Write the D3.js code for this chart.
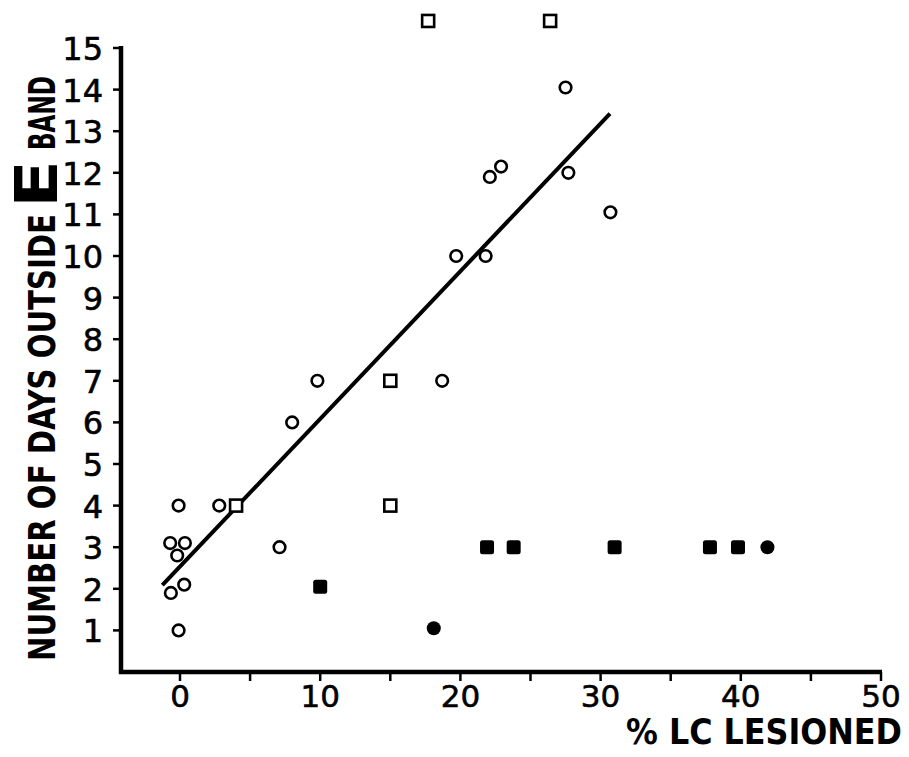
<!DOCTYPE html>
<html>
<head>
<meta charset="utf-8">
<script src="https://cdn.jsdelivr.net/npm/d3@7"></script>
<style>
  html, body { margin: 0; padding: 0; background: #fff; }
  svg { display: block; }
  text { fill: #000; }
</style>
</head>
<body>
<div id="chart"></div>
<script>
// ---- data ----
const xTicks = [0, 10, 20, 30, 40, 50];
const xMinorTicks = [5, 15, 25, 35, 45];
const yTicks = [1, 2, 3, 4, 5, 6, 7, 8, 9, 10, 11, 12, 13, 14, 15];

// open circles: [% LC lesioned, days outside E band]
const openCircles = [
  [-0.1, 4.0], [-0.7, 3.1], [0.35, 3.1], [-0.2, 2.8], [-0.65, 1.9], [0.3, 2.1],
  [-0.1, 1.0], [2.8, 4.0], [7.1, 3.0], [8.0, 6.0], [9.8, 7.0], [18.7, 7.0],
  [19.7, 10.0], [21.8, 10.0], [22.1, 11.9], [22.9, 12.15], [27.7, 12.0],
  [27.5, 14.05], [30.7, 11.05]
];
// open squares
const openSquares = [
  [4.0, 4.0], [15.0, 7.0], [15.0, 4.0], [17.7, 15.65], [26.4, 15.65]
];
// filled squares
const filledSquares = [
  [10.0, 2.05], [21.9, 3.0], [23.8, 3.0], [31.0, 3.0], [37.8, 3.0], [39.8, 3.0]
];
// filled circles
const filledCircles = [
  [18.1, 1.05], [41.9, 3.0]
];
// regression line end points
const fitLine = [[-1.26, 2.09], [30.67, 13.42]];

const xLabel = "% LC LESIONED";
const yLabelA = "NUMBER OF DAYS OUTSIDE";
const yLabelE = "E";
const yLabelB = "BAND";

// ---- drawing ----
const W = 909, H = 757;
const svg = d3.select("#chart").append("svg").attr("width", W).attr("height", H);

const x = d3.scaleLinear().domain([0, 50]).range([180, 881]);
const y = d3.scaleLinear().domain([0, 15]).range([672, 48]);
const axisX0 = 121; // pixel position of the y axis

const tickFont = "'DejaVu Sans', sans-serif";

// x axis
const gx = svg.append("g").attr("transform", `translate(0,${y(0)})`);
gx.append("line").attr("x1", axisX0 - 2).attr("x2", x(50) + 1)
  .attr("y1", 0).attr("y2", 0).attr("stroke", "#000").attr("stroke-width", 4.5);
gx.selectAll("line.maj").data(xTicks.concat(xMinorTicks)).join("line")
  .attr("class", "maj")
  .attr("x1", d => x(d)).attr("x2", d => x(d)).attr("y1", 0).attr("y2", 9)
  .attr("stroke", "#000").attr("stroke-width", 2.5);
gx.selectAll("text").data(xTicks).join("text")
  .attr("x", d => x(d)).attr("y", 35)
  .attr("text-anchor", "middle")
  .style("font-family", tickFont).style("font-size", "31px")
  .attr("stroke", "#000").attr("stroke-width", 0.6)
  .text(d => d);

// y axis
const gy = svg.append("g");
gy.append("line").attr("x1", axisX0).attr("x2", axisX0)
  .attr("y1", y(15) - 2).attr("y2", y(0) + 2)
  .attr("stroke", "#000").attr("stroke-width", 4.5);
gy.selectAll("line.t").data(yTicks).join("line").attr("class", "t")
  .attr("x1", axisX0 - 8).attr("x2", axisX0).attr("y1", d => y(d)).attr("y2", d => y(d))
  .attr("stroke", "#000").attr("stroke-width", 2.5);
gy.selectAll("text").data(yTicks).join("text")
  .attr("x", 103).attr("y", d => y(d) + 12)
  .attr("text-anchor", "end")
  .style("font-family", tickFont).style("font-size", "32px")
  .attr("stroke", "#000").attr("stroke-width", 0.6)
  .text(d => d);

// regression line
svg.append("line")
  .attr("x1", x(fitLine[0][0])).attr("y1", y(fitLine[0][1]))
  .attr("x2", x(fitLine[1][0])).attr("y2", y(fitLine[1][1]))
  .attr("stroke", "#000").attr("stroke-width", 4);

// markers
svg.selectAll("circle.open").data(openCircles).join("circle").attr("class", "open")
  .attr("cx", d => x(d[0])).attr("cy", d => y(d[1])).attr("r", 5.8)
  .attr("fill", "#fff").attr("stroke", "#000").attr("stroke-width", 2.6);
svg.selectAll("rect.open").data(openSquares).join("rect").attr("class", "open")
  .attr("x", d => x(d[0]) - 6).attr("y", d => y(d[1]) - 6)
  .attr("width", 12).attr("height", 12)
  .attr("fill", "#fff").attr("stroke", "#000").attr("stroke-width", 2.6);
svg.selectAll("rect.filled").data(filledSquares).join("rect").attr("class", "filled")
  .attr("x", d => x(d[0]) - 7).attr("y", d => y(d[1]) - 7)
  .attr("width", 14).attr("height", 14).attr("rx", 2.5)
  .attr("fill", "#000");
svg.selectAll("circle.filled").data(filledCircles).join("circle").attr("class", "filled")
  .attr("cx", d => x(d[0])).attr("cy", d => y(d[1])).attr("r", 7)
  .attr("fill", "#000");

// axis titles
const titleFont = "'DejaVu Sans Condensed', 'DejaVu Sans', sans-serif";
svg.append("text")
  .attr("x", 626).attr("y", 744)
  .attr("textLength", 276).attr("lengthAdjust", "spacingAndGlyphs")
  .style("font-family", titleFont).style("font-weight", "bold").style("font-size", "36px")
  .text(xLabel);

function vText(txt, baseX, yStart, yEnd, size) {
  svg.append("text")
    .attr("transform", `translate(${baseX},${yStart}) rotate(-90)`)
    .attr("x", 0).attr("y", 0)
    .attr("textLength", yStart - yEnd).attr("lengthAdjust", "spacingAndGlyphs")
    .style("font-family", titleFont).style("font-weight", "bold").style("font-size", size + "px")
    .text(txt);
}
vText(yLabelA, 55, 661, 214, 38);
vText(yLabelE, 57, 208, 160, 58);
vText(yLabelB, 55, 150, 76, 38);
</script>
</body>
</html>
